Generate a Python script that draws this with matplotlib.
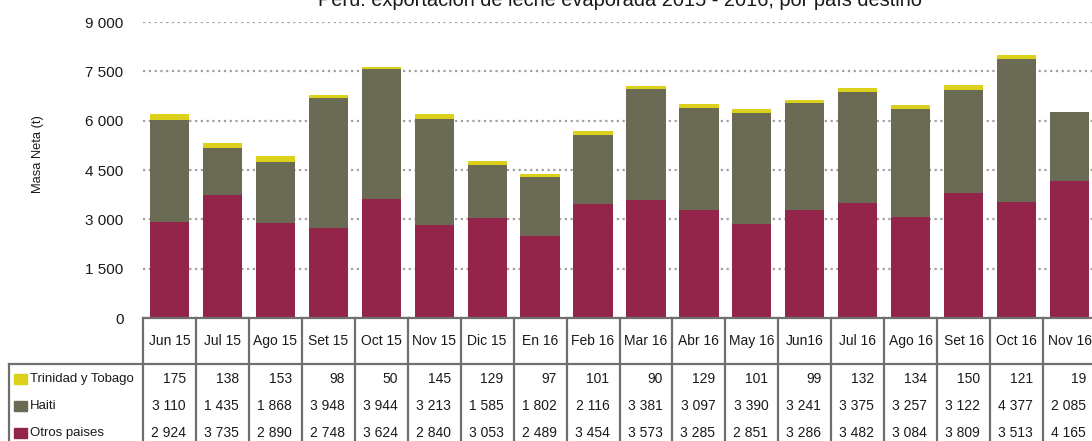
import numpy as np
import matplotlib.pyplot as plt
from matplotlib import font_manager
from matplotlib.patches import Rectangle
from matplotlib.transforms import blended_transform_factory

# Data
months = ['Jun 15', 'Jul 15', 'Ago 15', 'Set 15', 'Oct 15', 'Nov 15', 'Dic 15', 'En 16', 'Feb 16',
          'Mar 16', 'Abr 16', 'May 16', 'Jun16', 'Jul 16', 'Ago 16', 'Set 16', 'Oct 16', 'Nov 16']
trinidad = [175, 138, 153, 98, 50, 145, 129, 97, 101, 90, 129, 101, 99, 132, 134, 150, 121, 19]
haiti = [3110, 1435, 1868, 3948, 3944, 3213, 1585, 1802, 2116, 3381, 3097, 3390, 3241, 3375, 3257, 3122, 4377, 2085]
otros = [2924, 3735, 2890, 2748, 3624, 2840, 3053, 2489, 3454, 3573, 3285, 2851, 3286, 3482, 3084, 3809, 3513, 4165]
row_labels = ['Trinidad y Tobago', 'Haiti', 'Otros paises']
yticks = [0, 1500, 3000, 4500, 6000, 7500, 9000]

C_TRI = '#dbd11c'
C_HAI = '#6b6a54'
C_OTR = '#93244a'
LINE = '#6f6f6f'
TXT = '#1a1a1a'

names = {f.name for f in font_manager.fontManager.ttflist}
narrow = 'Liberation Sans Narrow' in names
plt.rcParams['font.family'] = ['Liberation Sans Narrow' if narrow else 'Liberation Sans', 'DejaVu Sans']
k = 1.2 if narrow else 1.0

W, H = 1092, 441
def fx(px):
    return px / W
def fy(px):
    return 1 - px / H

fig = plt.figure(figsize=(W / 100, H / 100), dpi=100)
ax = fig.add_axes([fx(143), fy(318), fx(1096) - fx(143), fy(22) - fy(318)])

x = np.arange(len(months))
bw = 0.74
ax.bar(x, otros, bw, color=C_OTR, zorder=2)
ax.bar(x, haiti, bw, bottom=otros, color=C_HAI, zorder=2)
ax.bar(x, trinidad, bw, bottom=np.add(otros, haiti), color=C_TRI, zorder=2)

ax.set_xlim(-0.5, len(months) - 0.5)
ax.set_ylim(0, 9000)
ax.set_yticks(yticks)
ax.set_yticklabels([f'{v:,}'.replace(',', ' ') for v in yticks], fontsize=11 * k, color=TXT)
ax.set_xticks([])
ax.tick_params(axis='y', length=0, pad=14)
for s in ax.spines.values():
    s.set_visible(False)
ax.yaxis.grid(True, linestyle=(0, (1, 1.6)), color='#a0a0a0', linewidth=1.6, zorder=0)
ax.set_axisbelow(True)

fig.text(fx(38), fy(154), 'Masa Neta (t)', rotation=90, ha='center', va='center',
         fontsize=9.3 * k, color=TXT)
fig.text((ax.get_position().x0 + ax.get_position().x1) / 2, fy(5.5),
         'Perú: exportación de leche evaporada 2015 - 2016, por país destino',
         ha='center', va='baseline', fontsize=14.4 * k, color=TXT)

# Data table drawn under the axis
tr = blended_transform_factory(ax.transData, fig.transFigure)
lw = 1.6
n = len(months)
ax.plot([-0.5, n - 0.5], [fy(318), fy(318)], color=LINE, lw=lw, transform=tr, clip_on=False, zorder=3)
fig.add_artist(plt.Line2D([fx(9), 1.0], [fy(364), fy(364)], color=LINE, lw=lw))
fig.add_artist(plt.Line2D([fx(9), fx(9)], [fy(364), 0], color=LINE, lw=lw))
for i in range(n + 1):
    ax.plot([i - 0.5, i - 0.5], [fy(318), 0], color=LINE, lw=lw, transform=tr, clip_on=False)

for i, m in enumerate(months):
    ax.text(i, fy(341), m, ha='center', va='center', fontsize=10 * k, color=TXT, transform=tr)

row_y = [379, 406, 433]
series = [trinidad, haiti, otros]
colors = [C_TRI, C_HAI, C_OTR]
for ry, lab, vals, c in zip(row_y, row_labels, series, colors):
    fig.add_artist(Rectangle((fx(14), fy(ry + 5)), fx(13), 10 / H, color=c, transform=fig.transFigure))
    fig.text(fx(30), fy(ry), lab, ha='left', va='center', fontsize=9.5 * k, color=TXT)
    for i, v in enumerate(vals):
        ax.text(i + 0.5 - 10 / 52.9, fy(ry), f'{v:,}'.replace(',', ' '), ha='right', va='center',
                fontsize=10 * k, color=TXT, transform=tr)

fig.savefig('out.png', dpi=100)
